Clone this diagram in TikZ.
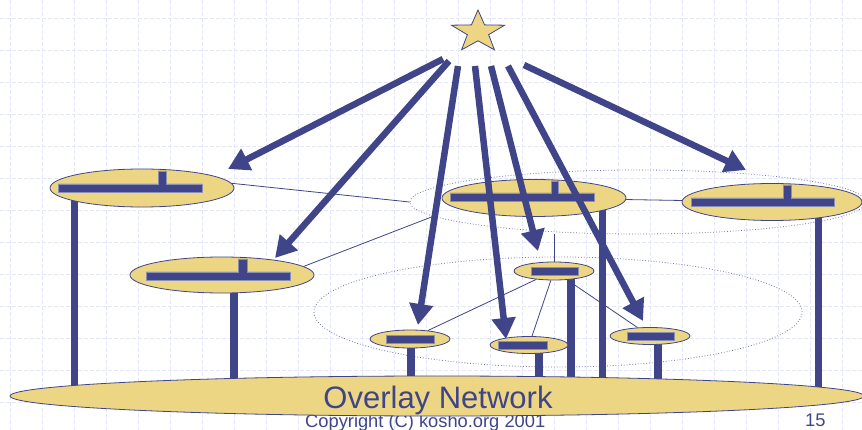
\documentclass[tikz,border=0pt]{standalone}
\usepackage{fontspec}
\setmainfont{Liberation Sans}
\usetikzlibrary{arrows.meta,shapes.geometric}

\definecolor{netblue}{HTML}{404589}
\definecolor{netgold}{HTML}{ECD684}
\definecolor{gridblue}{HTML}{E4E7FA}
\definecolor{barrim}{HTML}{8C8FB4}

\tikzset{
  peer/.style={ellipse, draw=netblue, fill=netgold, line width=0.8pt, inner sep=0pt},
  group/.style={ellipse, draw=netblue!75, dotted, line width=0.8pt, inner sep=0pt},
  link/.style={draw=netblue, line width=0.8pt},
  pillar/.style={draw=netblue, line width=7.5pt},
  bar/.style={fill=netblue, draw=barrim, line width=0.6pt},
  beam/.style={draw=netblue, line width=6.5pt, -{Triangle[length=21pt,width=23pt]}},
  gridline/.style={draw=gridblue, line width=0.7pt, dash pattern=on 4pt off 2pt},
}

\begin{document}
\begin{tikzpicture}[x=1pt,y=-1pt]
\useasboundingbox (0,0) rectangle (862,430);
\fill[white] (0,0) rectangle (862,430);

\foreach \gx in {10,42,...,842} \draw[gridline] (\gx,0) -- (\gx,430);
\foreach \gy in {18,50,...,402} \draw[gridline] (0,\gy) -- (862,\gy);

\node[group, minimum width=456pt, minimum height=64pt] (grpUp) at (638,202) {};
\node[group, minimum width=488pt, minimum height=110pt] (grpLow) at (558,312) {};

\draw[pillar] (74.5,198) -- (74.5,392);
\draw[pillar] (234,288) -- (234,390);
\draw[pillar] (602.5,207) -- (602.5,390);
\draw[pillar] (571,276) -- (571,390);
\draw[pillar] (411,344) -- (411,390);
\draw[pillar] (539,350) -- (539,390);
\draw[pillar] (658,341) -- (658,390);
\draw[pillar] (818.5,215) -- (818.5,395);

\node[peer, minimum width=184pt, minimum height=38pt] (A) at (142,188) {};
\node[peer, minimum width=184pt, minimum height=36pt] (B) at (222,275) {};
\node[peer, minimum width=184pt, minimum height=37pt] (C) at (534,198) {};
\node[peer, minimum width=180pt, minimum height=37pt] (H) at (772,202) {};
\node[peer, minimum width=80pt, minimum height=18pt] (D) at (554,271) {};
\node[peer, minimum width=80pt, minimum height=18pt] (E) at (410,339) {};
\node[peer, minimum width=78pt, minimum height=17pt] (F) at (529,345) {};
\node[peer, minimum width=80pt, minimum height=17pt] (G) at (650,336) {};

\filldraw[bar] (58,184) -- (158,184) -- (158,171) -- (166,171) -- (166,184)
               -- (202,184) -- (202,192) -- (58,192) -- cycle;
\filldraw[bar] (146,272) -- (238,272) -- (238,259) -- (247,259) -- (247,272)
               -- (290,272) -- (290,280) -- (146,280) -- cycle;
\filldraw[bar] (450,193) -- (551,193) -- (551,181) -- (558,181) -- (558,193)
               -- (594,193) -- (594,201) -- (450,201) -- cycle;
\filldraw[bar] (691,198) -- (783,198) -- (783,185) -- (791,185) -- (791,198)
               -- (834,198) -- (834,206) -- (691,206) -- cycle;
\filldraw[bar] (531,267) rectangle (578,275);
\filldraw[bar] (386,335) rectangle (434,343);
\filldraw[bar] (498,341) rectangle (547,349);
\filldraw[bar] (627,332) rectangle (674,340);

\draw[link] (A.3) -- (grpUp.west);
\draw[link] (B.6) -- (grpUp.184);
\draw[link] (C) -- (H);
\draw[link] (D) -- (D |- grpUp.south);
\draw[link] (D) -- (E);
\draw[link] (D) -- (F);
\draw[link] (D) -- (G);

\node[anchor=base west, inner sep=0pt, text=netblue, font=\fontsize{18.3}{20}\selectfont] (copy) at (305,427) {Copyright (C) kosho.org 2001};
\node[anchor=base west, inner sep=0pt, text=netblue, font=\fontsize{18.3}{20}\selectfont] (page) at (805,426) {15};

\node[peer, minimum width=854pt, minimum height=40pt] (net) at (437,396) {};
\node[anchor=base, inner sep=0pt, text=netblue, font=\fontsize{31}{34}\selectfont] (netlabel) at (438,408) {Overlay Network};

\node[star, star points=5, star point ratio=2.5, minimum size=44pt, inner sep=0pt,
      draw=netblue, fill=netgold, line width=0.8pt,
      shift={(478,32)}, xscale=1.27, transform shape] (star) at (0,0) {};

\coordinate (fromA) at (443,59);  \coordinate (toA) at (228,169);
\coordinate (fromB) at (449,61);  \coordinate (toB) at (275,258);
\coordinate (fromE) at (458,66);  \coordinate (toE) at (418,325);
\coordinate (fromF) at (475,66);  \coordinate (toF) at (506,339);
\coordinate (fromD) at (491,66);  \coordinate (toD) at (538,251);
\coordinate (fromG) at (508,66);  \coordinate (toG) at (643,321);
\coordinate (fromH) at (524,65);  \coordinate (toH) at (746,170);

\draw[beam] (fromA) -- (toA);
\draw[beam] (fromB) -- (toB);
\draw[beam] (fromE) -- (toE);
\draw[beam] (fromF) -- (toF);
\draw[beam] (fromD) -- (toD);
\draw[beam] (fromG) -- (toG);
\draw[beam] (fromH) -- (toH);
\end{tikzpicture}
\end{document}
